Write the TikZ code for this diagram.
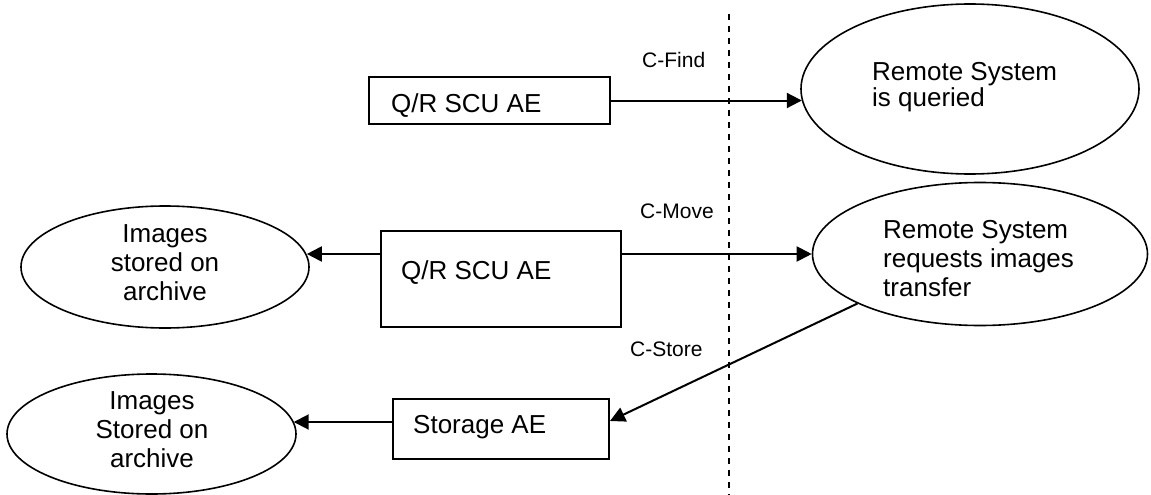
\documentclass[tikz,border=0pt]{standalone}
\usepackage{fontspec}
\setmainfont{Liberation Sans}
\usetikzlibrary{arrows.meta,shapes.geometric}
\begin{document}
\begin{tikzpicture}[x=1pt,y=-1pt,
  box/.style={draw, line width=2pt, inner sep=0pt},
  oval/.style={draw, ellipse, line width=1.6pt, inner sep=0pt},
  conn/.style={line width=2pt, -{Triangle[length=15pt,width=15pt]}},
  txt/.style={inner sep=0pt, font=\fontsize{26}{29}\selectfont},
  lbl/.style={inner sep=0pt, anchor=base west, font=\fontsize{21}{25}\selectfont},
  divider/.style={line width=2pt, dash pattern=on 6pt off 6pt}
]
\useasboundingbox (0,0) rectangle (1151,495);
% boundary
\coordinate (dtop) at (729,14);
\coordinate (dbot) at (729,495);
\draw[divider] (dtop) -- (dbot);

% row 1
\node[box, minimum width=241pt, minimum height=47pt] (b1) at (489.5,100.5) {};
\node[txt, anchor=base west] (b1t) at (391,112) {Q/R SCU AE};
\node[oval, minimum width=338pt, minimum height=170pt] (e1) at (970,89) {};
\node[txt, anchor=base west, font=\fontsize{26}{25}\selectfont] (e1t) at (872,81)
  {\parbox[t]{240pt}{\raggedright Remote System\\is queried}};
\node[lbl] (lf) at (642,67) {C-Find};
\draw[conn] (b1.east) -- (b1.east -| e1.184);

% row 2
\node[box, minimum width=240pt, minimum height=96pt] (b2) at (501,279) {};
\node[txt, anchor=base west] (b2t) at (401,279) {Q/R SCU AE};
\node[oval, minimum width=288pt, minimum height=122pt] (e2) at (165,267) {};
\node[txt, anchor=base] (e2t) at (165,242)
  {\parbox[t]{220pt}{\centering Images\\stored on\\archive}};
\node[oval, minimum width=335pt, minimum height=143pt] (e3) at (980,254) {};
\node[txt, anchor=base west] (e3t) at (883,238)
  {\parbox[t]{250pt}{\raggedright Remote System\\requests images\\transfer}};
\node[lbl] (lm) at (640,218) {C-Move};
\draw[conn] ([yshift=25pt]b2.west) -- ([yshift=25pt]b2.west -| e2.5);
\draw[conn] ([yshift=25pt]b2.east) -- ([yshift=25pt]b2.east -| e3.west);

% row 3
\node[box, minimum width=216pt, minimum height=60pt] (b3) at (501,429) {};
\node[txt, anchor=base west] (b3t) at (413,433) {Storage AE};
\node[oval, minimum width=289pt, minimum height=120pt] (e4) at (151.5,434) {};
\node[txt, anchor=base] (e4t) at (152,409)
  {\parbox[t]{220pt}{\centering Images\\Stored on\\archive}};
\node[lbl] (ls) at (630,356) {C-Store};
\draw[conn] (e3.202) -- ([yshift=8pt]b3.east);
\draw[conn] ([yshift=7pt]b3.west) -- ([yshift=7pt]b3.west -| e4.5);
\end{tikzpicture}
\end{document}
